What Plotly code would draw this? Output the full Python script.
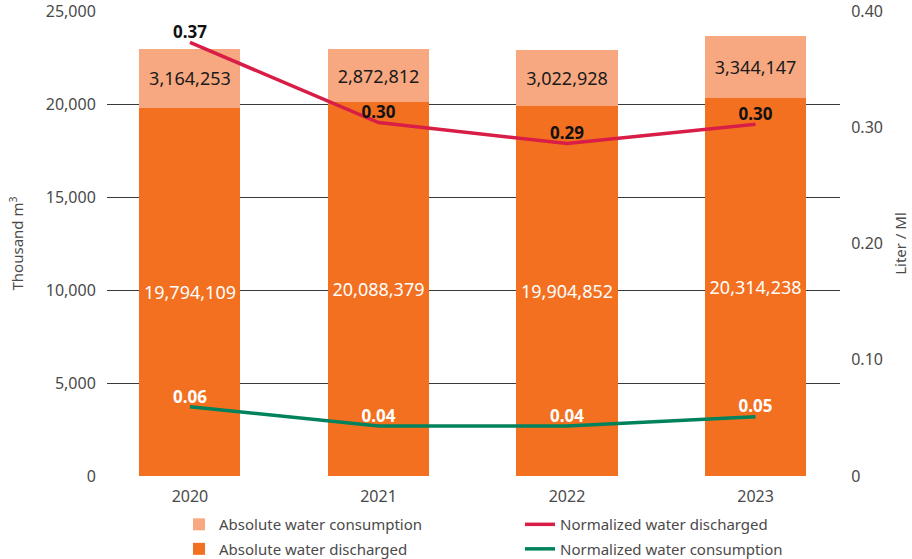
import plotly.graph_objects as go

years = ["2020", "2021", "2022", "2023"]
discharged_abs = [19794.109, 20088.379, 19904.852, 20314.238]   # thousand m3
consumption_abs = [3164.253, 2872.812, 3022.928, 3344.147]      # thousand m3
discharged_norm = [0.373, 0.304, 0.286, 0.3025]                 # liter / Ml
consumption_norm = [0.0595, 0.043, 0.043, 0.051]                # liter / Ml

left_ticks = [0, 5000, 10000, 15000, 20000, 25000]
right_ticks = [0, 0.1, 0.2, 0.3, 0.4]
right_ticktext = ["0", "0.10", "0.20", "0.30", "0.40"]

C_LIGHT = "#F7A880"
C_DARK = "#F37021"
C_RED = "#D81E47"
C_GREEN = "#00835C"
FONT = "Noto Sans"
GRAY = "#4a4a4a"

fig = go.Figure()

fig.add_trace(go.Bar(
    x=years, y=discharged_abs, name="Absolute water discharged",
    marker=dict(color=C_DARK, line=dict(width=0)),
    text=[f"{round(v * 1000):,}" for v in discharged_abs],
    textposition="inside", insidetextanchor="middle", textangle=0,
    constraintext="none",
    textfont=dict(family=FONT, size=18, color="white"),
    width=0.536, legend="legend", legendgroup="b", legendrank=2,
    hoverinfo="skip",
))
fig.add_trace(go.Bar(
    x=years, y=consumption_abs, name="Absolute water consumption",
    marker=dict(color=C_LIGHT, line=dict(width=0)),
    text=[f"{round(v * 1000):,}" for v in consumption_abs],
    textposition="inside", insidetextanchor="middle", textangle=0,
    constraintext="none",
    textfont=dict(family=FONT, size=18, color="#1a1a1a"),
    width=0.536, legend="legend", legendgroup="a", legendrank=1,
    hoverinfo="skip",
))
fig.add_trace(go.Scatter(
    x=years, y=discharged_norm, name="Normalized water discharged",
    mode="lines+text", yaxis="y2",
    line=dict(color=C_RED, width=3.5),
    texttemplate="<b>%{y:.2f}</b>", textposition="top center",
    textfont=dict(family=FONT, size=17, color="#111111"),
    legend="legend2", legendgroup="c", legendrank=1,
    hoverinfo="skip", cliponaxis=False,
))
fig.add_trace(go.Scatter(
    x=years, y=consumption_norm, name="Normalized water consumption",
    mode="lines+text", yaxis="y2",
    line=dict(color=C_GREEN, width=3.5),
    texttemplate="<b>%{y:.2f}</b>", textposition="top center",
    textfont=dict(family=FONT, size=17, color="white"),
    legend="legend2", legendgroup="d", legendrank=2,
    hoverinfo="skip", cliponaxis=False,
))

fig.update_layout(
    width=912, height=559,
    margin=dict(l=107, r=72, t=11, b=83, autoexpand=False),
    paper_bgcolor="white", plot_bgcolor="white",
    barmode="stack",
    font=dict(family=FONT, size=15, color=GRAY),
    xaxis=dict(
        type="category", range=[-0.44, 3.448],
        showgrid=False, showline=False, zeroline=False,
        ticks="outside", ticklen=6, tickcolor="rgba(0,0,0,0)",
        tickfont=dict(family=FONT, size=16, color=GRAY),
        automargin=False,
    ),
    yaxis=dict(
        range=[0, 25001], tickvals=left_ticks, tickformat=",d",
        showgrid=True, gridcolor="#3a3a3a", gridwidth=1,
        zeroline=False, showline=False,
        ticks="outside", ticklen=7, tickcolor="rgba(0,0,0,0)",
        tickfont=dict(family=FONT, size=16, color=GRAY),
        ticklabeloverflow="allow",
        title=dict(text="Thousand m<sup>3</sup>", standoff=18,
                   font=dict(family=FONT, size=15, color=GRAY)),
        automargin=False,
    ),
    yaxis2=dict(
        overlaying="y", side="right", range=[0, 0.40001],
        tickvals=right_ticks, ticktext=right_ticktext,
        showgrid=False, zeroline=False, showline=False,
        ticks="outside", ticklen=7, tickcolor="rgba(0,0,0,0)",
        tickfont=dict(family=FONT, size=16, color=GRAY),
        ticklabeloverflow="allow",
        title=dict(text="Liter / Ml", standoff=13,
                   font=dict(family=FONT, size=15, color=GRAY)),
        automargin=False,
    ),
    legend=dict(
        x=(179 - 107) / 733, y=-0.069, xanchor="left", yanchor="top",
        orientation="v", traceorder="grouped",
        font=dict(family=FONT, size=15, color=GRAY),
        bgcolor="rgba(0,0,0,0)", tracegroupgap=2,
    ),
    legend2=dict(
        x=(520 - 107) / 733, y=-0.069, xanchor="left", yanchor="top",
        orientation="v", traceorder="grouped",
        font=dict(family=FONT, size=15, color=GRAY),
        bgcolor="rgba(0,0,0,0)", tracegroupgap=2,
    ),
    showlegend=True,
)

fig.write_html(
    "out.html",
    config={"displayModeBar": False},
    post_script="document.body.style.margin='0';",
)
